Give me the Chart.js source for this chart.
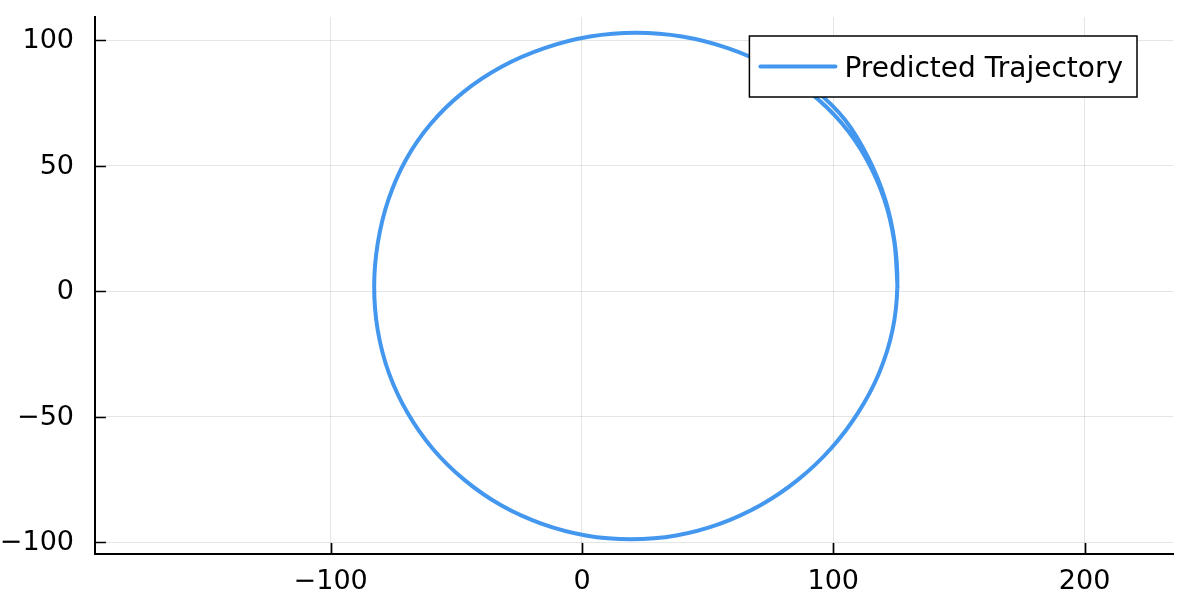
<!DOCTYPE html>
<html>
<head>
<meta charset="utf-8">
<script src="https://cdn.jsdelivr.net/npm/chart.js@4.4.1/dist/chart.umd.min.js"></script>
<style>
  html, body { margin: 0; padding: 0; background: #fff; }
  canvas { display: block; }
</style>
</head>
<body>
<canvas id="traj" width="1188" height="606"></canvas>
<script>
const seriesName = 'Predicted Trajectory';

// trajectory: one full turn, then the start of a second one
const trajX = [
  125.6, 124.3, 120.3, 113.3, 103.4, 90.5, 75.1, 58.0, 39.8, 21.5,
  3.2, -14.9, -32.0, -47.2, -60.0, -70.0, -77.0, -81.2, -82.7,
  -81.3, -76.9, -69.5, -59.4, -46.8, -32.2, -15.9, 1.5, 19.5,
  37.5, 54.8, 71.0, 85.9, 99.0, 109.9, 118.3, 123.6, 125.5,
  124.4, 120.6, 114.0, 104.8, 92.1, 76.8
];
const trajY = [
  1.0, 19.6, 36.6, 52.5, 66.9, 79.3, 89.4, 96.8, 101.4, 102.9,
  101.4, 96.8, 89.4, 79.3, 66.9, 52.5, 36.6, 19.6, 2.1,
  -15.4, -32.4, -48.3, -62.7, -75.1, -85.2, -92.6, -97.2, -98.7,
  -97.2, -92.6, -85.2, -75.1, -62.7, -48.3, -32.4, -15.4, 2.1,
  19.7, 36.8, 53.0, 68.1, 80.7, 91.3
];

const xTicks = [-100, 0, 100, 200];
const yTicks = [-100, -50, 0, 50, 100];
const xLimits = [-193.8, 235.2];
const yLimits = [-104.6, 109.2];

const lineColor = '#4397ee';
Chart.defaults.font.family = '"DejaVu Sans", sans-serif';

function fmtTick(v) {
  return v < 0 ? '\u2212' + Math.abs(v) : String(v);
}

// Plots-style ticks, pointing into the plot area
const innerTicks = {
  id: 'innerTicks',
  afterDraw(chart) {
    const { ctx, chartArea: a, scales: { x, y } } = chart;
    ctx.save();
    ctx.strokeStyle = '#000';
    ctx.lineWidth = 1.7;
    ctx.beginPath();
    x.ticks.forEach(t => {
      const px = Math.round(x.getPixelForValue(t.value)) + 0.5;
      ctx.moveTo(px, a.bottom);
      ctx.lineTo(px, a.bottom - 11);
    });
    y.ticks.forEach(t => {
      const py = Math.round(y.getPixelForValue(t.value)) + 0.5;
      ctx.moveTo(a.left, py);
      ctx.lineTo(a.left + 11, py);
    });
    ctx.stroke();
    ctx.restore();
  }
};

// legend with a black frame in the top right corner
const boxedLegend = {
  id: 'boxedLegend',
  afterDraw(chart) {
    const { ctx, chartArea: a } = chart;
    const ds = chart.data.datasets[0];
    ctx.save();
    ctx.font = '28px "DejaVu Sans"';
    const tw = ctx.measureText(ds.label).width;
    const w = 11 + 75 + 9 + tw + 14;
    const h = 61;
    const right = a.right - 36;
    const top = a.top + 19;
    const left = right - w;
    ctx.fillStyle = '#fff';
    ctx.fillRect(left, top, w, h);
    ctx.lineWidth = 1.5;
    ctx.strokeStyle = '#000';
    ctx.strokeRect(left, top, w, h);
    ctx.beginPath();
    ctx.moveTo(left + 11, top + 30.5);
    ctx.lineTo(left + 86, top + 30.5);
    ctx.strokeStyle = ds.borderColor;
    ctx.lineWidth = 4;
    ctx.lineCap = 'round';
    ctx.stroke();
    ctx.fillStyle = '#000';
    ctx.textBaseline = 'alphabetic';
    ctx.fillText(ds.label, left + 95, top + 41);
    ctx.restore();
  }
};

const gridOpts = { color: 'rgba(0,0,0,0.1)', lineWidth: 1, drawTicks: false };
const borderOpts = { color: '#000', width: 2 };

new Chart(document.getElementById('traj'), {
  type: 'scatter',
  data: {
    datasets: [{
      label: seriesName,
      data: trajX.map((v, i) => ({ x: v, y: trajY[i] })),
      showLine: true,
      borderColor: lineColor,
      backgroundColor: lineColor,
      borderWidth: 4,
      pointRadius: 0,
      tension: 0.33,
      fill: false
    }]
  },
  options: {
    responsive: false,
    animation: false,
    devicePixelRatio: 1,
    layout: { padding: { top: 17, right: 15, left: 0, bottom: 0 } },
    plugins: { legend: { display: false }, tooltip: { enabled: false } },
    scales: {
      x: {
        type: 'linear',
        min: xLimits[0],
        max: xLimits[1],
        afterBuildTicks: s => { s.ticks = xTicks.map(v => ({ value: v })); },
        afterFit: s => { s.height = 52; s.paddingLeft = 0; s.paddingRight = 0; },
        grid: gridOpts,
        border: borderOpts,
        ticks: {
          padding: 12,
          color: '#000',
          font: { size: 27, lineHeight: 1.2 },
          maxRotation: 0,
          autoSkip: false,
          callback: fmtTick
        }
      },
      y: {
        type: 'linear',
        min: yLimits[0],
        max: yLimits[1],
        afterBuildTicks: s => { s.ticks = yTicks.map(v => ({ value: v })); },
        afterFit: s => { s.width = 95; s.paddingTop = 0; s.paddingBottom = 0; },
        grid: gridOpts,
        border: borderOpts,
        ticks: {
          padding: 21,
          labelOffset: 1,
          color: '#000',
          font: { size: 27, lineHeight: 1.2 },
          autoSkip: false,
          callback: fmtTick
        }
      }
    }
  },
  plugins: [innerTicks, boxedLegend]
});
</script>
</body>
</html>
